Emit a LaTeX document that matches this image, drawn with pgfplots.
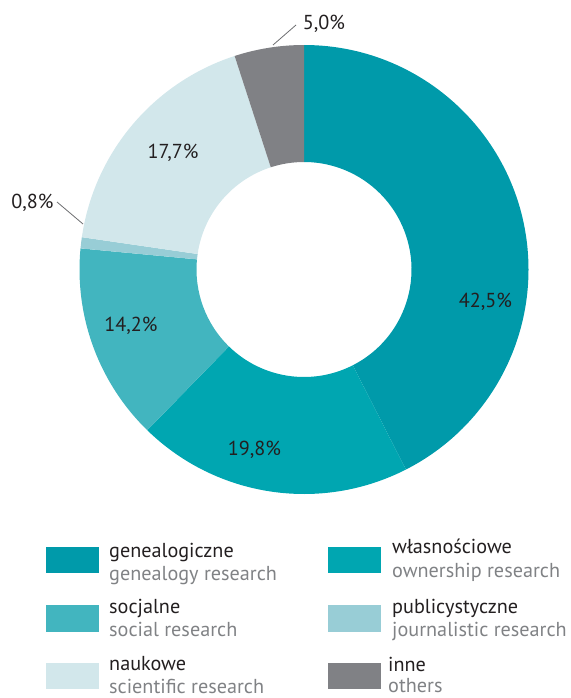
\documentclass[border=0pt]{standalone}
\usepackage{pgfplots}
\usepackage{pgfplotstable}
\pgfplotsset{compat=1.18}
\usepackage{fontspec}
\setmainfont{PT Sans}

\definecolor{cGen}{HTML}{009AAA}
\definecolor{cWla}{HTML}{00A6B1}
\definecolor{cSoc}{HTML}{42B5BF}
\definecolor{cPub}{HTML}{98CDD6}
\definecolor{cNau}{HTML}{D2E7EB}
\definecolor{cInn}{HTML}{808185}
\definecolor{txt}{HTML}{231F20}
\definecolor{sub}{HTML}{808285}
\definecolor{ldr}{HTML}{6D6E71}

\pgfkeys{/pgf/number format/assume math mode=true}

% share in percent; label anchor (base) in picture pixels, y from the top
\pgfplotstableread{
share col  lx    ly
42.5  cGen 485.5 307.5
19.8  cWla 254.5 455
14.2  cSoc 131   331.5
0.8   cPub 32.5  208.5
17.7  cNau 173   158.5
5.0   cInn 324   30
}\shares

\def\cx{304}
\def\cy{269.5}
\def\Rout{224.5pt}
\def\Rin{107.5pt}

\begin{document}
\begin{tikzpicture}[every node/.append style={inner sep=0pt,font=\fontsize{20.2}{24}\selectfont}]
\useasboundingbox (0,0) rectangle (570pt,698pt);

% slice angles, clockwise from the top
\xdef\acc{90}
\pgfplotsforeachungrouped \i in {0,...,5}{%
  \pgfplotstablegetelem{\i}{share}\of\shares
  \let\v\pgfplotsretval
  \pgfmathsetmacro\aend{\acc-3.6*\v}
  \expandafter\xdef\csname a\i\endcsname{\acc}
  \expandafter\xdef\csname b\i\endcsname{\aend}
  \pgfmathprintnumberto[fixed,fixed zerofill,precision=1,use comma]{\v}{\tmp}
  \expandafter\global\expandafter\let\csname t\i\endcsname\tmp
  \pgfplotstablegetelem{\i}{col}\of\shares
  \expandafter\xdef\csname c\i\endcsname{\pgfplotsretval}
  \pgfplotstablegetelem{\i}{lx}\of\shares
  \expandafter\xdef\csname x\i\endcsname{\pgfplotsretval}
  \pgfplotstablegetelem{\i}{ly}\of\shares
  \expandafter\xdef\csname y\i\endcsname{\pgfplotsretval}
  \xdef\acc{\aend}
}

\begin{axis}[
  hide axis, scale only axis,
  x=1pt, y=1pt,
  xmin=0, xmax=570, ymin=0, ymax=698,
  y dir=reverse,
  clip=false,
  at={(0,0)}, anchor=south west]

\pgfplotsinvokeforeach{0,...,5}{%
  \fill[fill=\csname c#1\endcsname]
    ([shift={(axis cs:\cx,\cy)}]\csname a#1\endcsname:\Rout)
    arc[start angle=\csname a#1\endcsname, end angle=\csname b#1\endcsname, radius=\Rout]
    -- ([shift={(axis cs:\cx,\cy)}]\csname b#1\endcsname:\Rin)
    arc[start angle=\csname b#1\endcsname, end angle=\csname a#1\endcsname, radius=\Rin]
    -- cycle;
  \node[anchor=base, text=txt] at (axis cs:\csname x#1\endcsname,\csname y#1\endcsname)
    {\csname t#1\endcsname\%};
}

% leader lines of the two thin slices
\draw[ldr, line width=0.8pt] (axis cs:57,202) -- (axis cs:83,224);
\draw[ldr, line width=0.8pt] (axis cs:296,25) -- (axis cs:273,45);

% legend
\fill[cGen] (axis cs:46,546.5) rectangle (axis cs:99,573);
\node[anchor=base west, text=txt] at (axis cs:109,557) {genealogiczne};
\node[anchor=base west, text=sub] at (axis cs:109,580) {genealogy research};
\fill[cSoc] (axis cs:46,604.5) rectangle (axis cs:99,631.5);
\node[anchor=base west, text=txt] at (axis cs:109,613) {socjalne};
\node[anchor=base west, text=sub] at (axis cs:109,636) {social research};
\fill[cNau] (axis cs:46,663) rectangle (axis cs:99,689);
\node[anchor=base west, text=txt] at (axis cs:109,670) {naukowe};
\node[anchor=base west, text=sub] at (axis cs:109,693) {scientific research};

\fill[cWla] (axis cs:328,546.5) rectangle (axis cs:381,573);
\node[anchor=base west, text=txt] at (axis cs:392,553) {własnościowe};
\node[anchor=base west, text=sub] at (axis cs:392,577) {ownership research};
\fill[cPub] (axis cs:328,604.5) rectangle (axis cs:381,631.5);
\node[anchor=base west, text=txt] at (axis cs:392,613) {publicystyczne};
\node[anchor=base west, text=sub] at (axis cs:392,636) {journalistic research};
\fill[cInn] (axis cs:328,663) rectangle (axis cs:381,689);
\node[anchor=base west, text=txt] at (axis cs:388,671) {inne};
\node[anchor=base west, text=sub] at (axis cs:388,692.5) {others};
\end{axis}
\end{tikzpicture}
\end{document}
